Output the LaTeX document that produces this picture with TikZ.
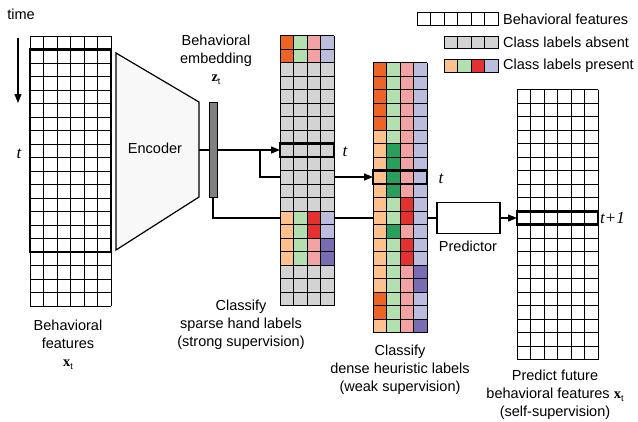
\documentclass[tikz,border=0pt]{standalone}
\usepackage{fontspec}
\setmainfont{Liberation Sans}
\newfontfamily\tsf{Liberation Serif}
\usetikzlibrary{arrows.meta}
\definecolor{cO}{RGB}{238,100,38}
\definecolor{cC}{RGB}{253,193,142}
\definecolor{cG}{RGB}{180,224,176}
\definecolor{cK}{RGB}{40,160,92}
\definecolor{cP}{RGB}{242,162,162}
\definecolor{cR}{RGB}{228,48,46}
\definecolor{cL}{RGB}{188,188,222}
\definecolor{cD}{RGB}{122,108,178}
\definecolor{cX}{RGB}{211,211,211}
\definecolor{cW}{RGB}{255,255,255}
\definecolor{cEnc}{RGB}{248,248,248}
\definecolor{cBar}{RGB}{128,128,128}
\def\cs{13.5}
\newcommand\wgrid[4]{%
  \pgfmathsetmacro\gw{#3*\cs}\pgfmathsetmacro\gh{#4*\cs}%
  \foreach \i in {0,...,#3} {\draw[gridl] ({#1+\i*\cs},#2) -- ++(0,\gh);}%
  \foreach \j in {0,...,#4} {\draw[gridl] (#1,{#2+\j*\cs}) -- ++(\gw,0);}%
}
\newcommand\cgrid[3]{%
  \foreach \pa/\pb/\pc/\pd [count=\rr from 0] in {#3} {%
    \fill[c\pa] (#1,{#2+\rr*\cs}) rectangle ++(\cs,\cs);
    \fill[c\pb] ({#1+\cs},{#2+\rr*\cs}) rectangle ++(\cs,\cs);
    \fill[c\pc] ({#1+2*\cs},{#2+\rr*\cs}) rectangle ++(\cs,\cs);
    \fill[c\pd] ({#1+3*\cs},{#2+\rr*\cs}) rectangle ++(\cs,\cs);
  }%
}
\begin{document}
\begin{tikzpicture}[x=1pt,y=-1pt,
  gridl/.style={line width=0.95pt},
  thickbox/.style={line width=2.7pt},
  conn/.style={line width=1.2pt},
  arr/.style={conn,-{Triangle[length=9pt,width=7pt]}},
  lbl/.style={font=\fontsize{14.5}{18}\selectfont, align=center, inner sep=0pt},
  tlbl/.style={font=\fontsize{17}{18}\selectfont\tsf\itshape, inner sep=0pt}]
\fill[white] (0,0) rectangle (638,421);
\useasboundingbox (0,0) rectangle (638,421);

% time arrow
\node[lbl] (time) at (21,14) {time};
\coordinate (ta) at (18,38);
\coordinate (tb) at (18,103);
\draw[arr] (ta) -- (tb);
\node[tlbl] (tl) at (19,154) {t};

% connectors (behind grids)
\coordinate (encR) at (199,150);
\node[draw, line width=1pt, fill=cBar, minimum width=8pt, minimum height=95pt, inner sep=0pt] (bar) at (213,150) {};
\node[draw, line width=1.1pt, minimum width=63pt, minimum height=31pt, inner sep=0pt] (pred) at (468.5,218) {};
\coordinate (midIn) at (280,150);
\coordinate (br) at (260,150);
\coordinate (thIn) at (373,177);
\coordinate (rtIn) at (517,218);
\draw[conn] (encR) -- (bar.west);
\draw[arr] (bar.east) -- (midIn);
\draw[arr] (br) |- (thIn);
\draw[conn] (bar.south) |- (pred.west);
\draw[arr] (pred.east) -- (rtIn);

% encoder
\draw[line width=1.2pt, fill=cEnc] (116,53) -- (199,102) -- (199,197) -- (116,250) -- cycle;
\node[lbl] (enc) at (155,148) {Encoder};

% left grid
\wgrid{30}{36}{6}{20}
\draw[thickbox] (30,49.5) rectangle (111,252);

% middle grid
\cgrid{280}{35.5}{O/G/P/L,O/G/P/L,X/X/X/X,X/X/X/X,X/X/X/X,X/X/X/X,X/X/X/X,X/X/X/X,X/X/X/X,X/X/X/X,X/X/X/X,X/X/X/X,X/X/X/X,C/G/R/L,C/G/R/L,C/G/P/D,C/G/P/D,X/X/X/X,X/X/X/X,X/X/X/X}
\wgrid{280}{35.5}{4}{20}
\draw[thickbox] (280,143.5) rectangle (334,157);

% third grid
\cgrid{373}{62.5}{O/G/P/L,O/G/P/L,O/G/P/L,O/G/P/L,O/G/P/L,C/G/P/L,C/K/P/L,C/K/P/L,C/K/P/L,C/K/P/L,C/G/R/L,C/G/R/L,C/K/P/L,C/G/R/L,C/G/R/L,C/G/P/D,C/G/P/D,O/G/P/L,O/G/P/L,C/G/P/D}
\wgrid{373}{62.5}{4}{20}
\draw[thickbox] (373,170.5) rectangle (427,184);

% right grid
\wgrid{517}{89.8}{6}{20}
\draw[thickbox] (517,211.3) rectangle (598,224.8);

% t labels
\node[tlbl] (t1) at (345,152) {t};
\node[tlbl] (t2) at (441,179) {t};
\node[tlbl, anchor=west] (t3) at (600,218) {t+1};

% labels
\node[lbl] (emb) at (216,60) {Behavioral\\embedding\\{\tsf\bfseries z}\raisebox{-0.35ex}{\fontsize{9}{9}\selectfont t}};
\node[lbl] (predl) at (468,246) {Predictor};
\node[lbl] (l1) at (68,345) {Behavioral\\features\\{\tsf\bfseries x}\raisebox{-0.35ex}{\fontsize{9}{9}\selectfont t}};
\node[lbl] (l2) at (241,325) {Classify\\sparse hand labels\\(strong supervision)};
\node[lbl] (l3) at (400,370) {Classify\\dense heuristic labels\\(weak supervision)};
\node[lbl] (l4) at (555,395) {Predict future\\behavioral features {\tsf\bfseries x}\raisebox{-0.35ex}{\fontsize{9}{9}\selectfont t}\\(self-supervision)};

% legend
\foreach \i in {0,...,5} {\draw[gridl] ({417+\i*13.5},12.7) rectangle ++(13.5,12.5);}
\foreach \i/\cc in {0/X,1/X,2/X,3/X} {\draw[gridl, fill=c\cc] ({444+\i*13.5},36) rectangle ++(13.5,12.5);}
\foreach \i/\cc in {0/C,1/G,2/R,3/L} {\draw[gridl, fill=c\cc] ({444+\i*13.5},59.5) rectangle ++(13.5,12.5);}
\node[lbl, anchor=west] (lg1) at (503,19) {Behavioral features};
\node[lbl, anchor=west] (lg2) at (503,42.5) {Class labels absent};
\node[lbl, anchor=west] (lg3) at (503,66) {Class labels present};
\end{tikzpicture}
\end{document}
